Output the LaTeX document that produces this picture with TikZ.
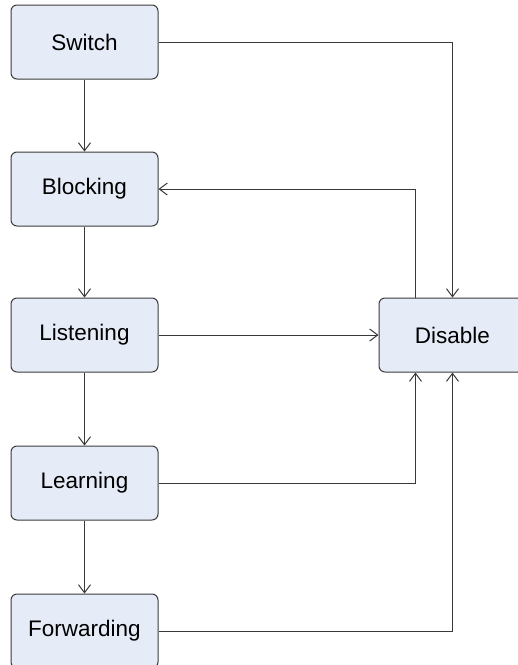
\documentclass[tikz,border=0pt]{standalone}
\usepackage{fontspec}
\setmainfont{Liberation Sans}
\usetikzlibrary{arrows.meta,calc}
\definecolor{boxfill}{HTML}{E6ECF7}
\definecolor{lineclr}{HTML}{3A3A3A}
\begin{document}
\begin{tikzpicture}[x=1pt,y=-1pt,
  state/.style={draw=lineclr,fill=boxfill,rounded corners=6pt,minimum width=147pt,minimum height=74pt,inner sep=0pt,line width=1pt,font=\fontsize{22.5}{27}\selectfont},
  conn/.style={draw=lineclr,line width=1pt,-{Straight Barb[length=8pt,width=12pt,line width=1pt]}},
  plain/.style={draw=lineclr,line width=1pt}]
\useasboundingbox (0,0) rectangle (518,665);
\clip (0,0) rectangle (518,665);
\node[state] (sw) at (84.5,42) {Switch};
\node[state] (bl) at (84.5,189) {Blocking};
\node[state] (li) at (84.5,335) {Listening};
\node[state] (le) at (84.5,483) {Learning};
\node[state] (fw) at (84.5,631) {Forwarding};
\node[state] (di) at (452.5,335) {Disable};
\coordinate (dtl) at ([xshift=37pt]di.north west);
\coordinate (dbl) at ([xshift=37pt]di.south west);
\draw[conn] (sw) -- (bl);
\draw[conn] (bl) -- (li);
\draw[conn] (li) -- (le);
\draw[conn] (le) -- (fw);
\draw[conn] (sw.east) -| (di.north);
\draw[conn] (dtl) |- (bl.east);
\draw[conn] (li.east) -- (di.west);
\draw[conn] (le.east) -| (dbl);
\draw[conn] (fw.east) -| (di.south);
\end{tikzpicture}
\end{document}
